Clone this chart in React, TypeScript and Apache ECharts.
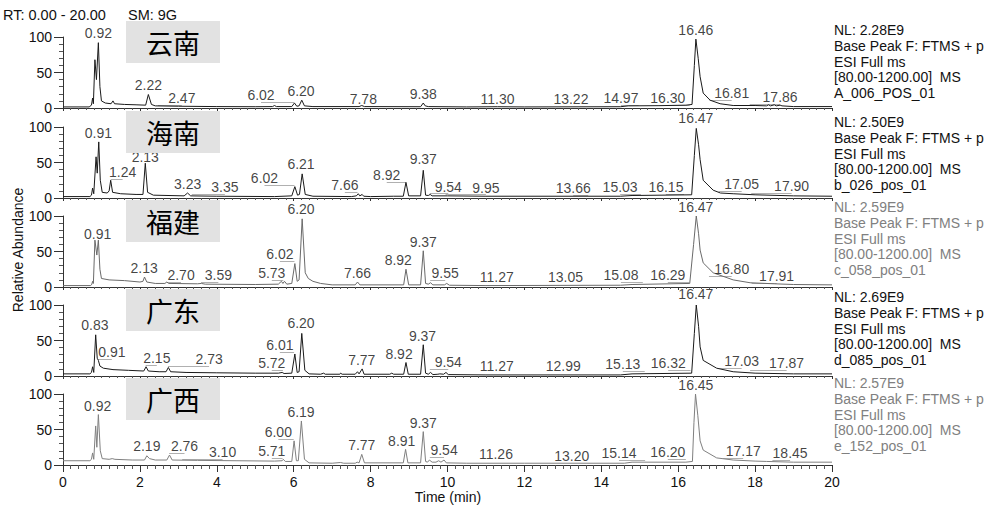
import React, { useEffect, useRef } from "react";
import * as echarts from "echarts";

const regions = ["云南", "海南", "福建", "广东", "广西"];
const nlValues = ["2.28E9", "2.50E9", "2.59E9", "2.69E9", "2.57E9"];
const fileNames = ["A_006_POS_01", "b_026_pos_01", "c_058_pos_01", "d_085_pos_01", "e_152_pos_01"];

const trace1: [number, number][] = [
  [0, 1.5], [0.68, 1.5], [0.74, 4], [0.77, 14], [0.79, 6], [0.83, 68], [0.87, 40], [0.92, 92], [0.96, 30],
  [1.0, 10], [1.1, 7], [1.25, 6], [1.3, 10], [1.34, 6], [1.6, 5], [1.9, 4.5], [2.15, 4], [2.22, 19], [2.3, 5],
  [2.4, 3], [3.0, 2.5], [4.0, 2], [5.0, 1.8], [5.45, 2], [5.5, 3.5], [5.55, 2], [5.95, 2], [6.02, 7], [6.08, 2.5],
  [6.14, 3], [6.21, 11], [6.28, 3], [6.5, 2], [7.7, 2], [7.77, 3.5], [7.84, 2], [9.3, 1.8], [9.37, 7], [9.42, 3],
  [9.5, 2], [10.5, 1.5], [11.3, 1.8], [12, 1.5], [14.5, 1.8], [14.7, 3], [15.5, 3.3], [16.2, 4], [16.36, 5],
  [16.42, 60], [16.46, 97], [16.52, 70], [16.57, 44], [16.65, 21], [16.83, 11], [17.09, 6], [17.43, 3.5],
  [18.0, 3.5], [18.3, 3], [18.35, 4.5], [18.4, 3], [18.5, 4.5], [18.55, 3], [18.65, 4], [18.7, 3], [19, 2], [20, 2],
];
const trace2: [number, number][] = [
  [0, 2], [0.7, 2], [0.74, 4], [0.77, 14], [0.8, 6], [0.86, 58], [0.89, 35], [0.93, 79], [0.97, 25], [1.02, 8],
  [1.15, 7], [1.2, 10], [1.24, 25], [1.29, 8], [1.5, 6], [1.9, 5], [2.08, 5], [2.14, 49], [2.2, 8], [2.35, 4],
  [3.15, 3], [3.24, 7], [3.32, 3], [4, 2.5], [5.5, 2], [5.95, 3], [6.03, 16], [6.1, 4], [6.15, 5], [6.22, 34],
  [6.3, 5], [6.5, 2.5], [7.5, 2], [7.63, 3], [7.68, 6], [7.72, 3], [7.78, 5], [7.82, 2.5], [8.0, 2], [8.6, 2.5],
  [8.85, 2.5], [8.92, 22], [8.99, 3], [9.3, 3], [9.37, 39], [9.43, 4], [9.5, 3.5], [9.55, 5], [9.6, 3], [10, 3],
  [11, 2.5], [14.5, 2.5], [14.8, 3.5], [16.35, 4.5], [16.42, 60], [16.47, 98], [16.53, 75], [16.57, 54],
  [16.65, 25], [16.91, 11], [17.1, 7], [17.43, 6], [18, 4.5], [19, 3], [20, 2.5],
];
const trace3: [number, number][] = [
  [0, 2], [0.72, 2], [0.75, 4], [0.77, 8], [0.79, 5], [0.83, 66], [0.88, 45], [0.92, 66], [0.96, 25], [1.0, 12],
  [1.2, 10], [1.6, 9], [2.0, 7], [2.08, 8], [2.12, 14], [2.18, 7], [2.4, 5], [2.65, 5], [2.7, 7], [2.75, 5],
  [3.5, 4.5], [3.6, 5], [3.7, 4], [5.0, 3.5], [5.6, 4], [5.68, 8], [5.72, 5], [5.76, 8], [5.82, 4], [5.95, 5],
  [6.03, 33], [6.09, 8], [6.14, 10], [6.22, 96], [6.3, 20], [6.38, 12], [6.5, 8], [6.7, 5], [7.0, 3], [7.6, 3],
  [7.66, 7], [7.72, 3], [8.86, 3], [8.92, 25], [8.99, 3], [9.3, 3], [9.37, 51], [9.43, 5], [9.5, 4], [9.56, 6],
  [9.62, 3], [9.92, 3], [9.98, 5], [10.05, 2.5], [11, 2], [14.5, 2.5], [14.8, 3.5], [16.3, 5], [16.4, 60],
  [16.47, 100], [16.53, 75], [16.57, 52], [16.65, 34], [16.91, 20], [17.43, 10], [17.87, 6], [18.5, 4.5],
  [19, 3.5], [20, 3],
];
const trace4: [number, number][] = [
  [0, 3], [0.7, 3], [0.74, 5], [0.77, 13], [0.8, 5], [0.85, 58], [0.89, 25], [0.92, 22], [0.96, 14], [1.05, 11],
  [1.3, 9], [1.7, 8], [2.1, 7], [2.16, 13], [2.22, 7], [2.5, 6], [2.68, 6], [2.74, 12], [2.8, 6], [3.2, 5],
  [4, 4.5], [5.0, 4], [5.6, 4], [5.7, 5], [5.75, 3.5], [5.95, 4], [6.03, 31], [6.09, 5], [6.14, 6], [6.21, 60],
  [6.29, 8], [6.4, 3], [6.7, 2.5], [6.78, 4], [6.82, 2.5], [7.2, 2.5], [7.22, 4], [7.26, 2.5], [7.6, 2.5],
  [7.66, 6], [7.7, 3], [7.78, 10], [7.83, 2.5], [8.5, 2.5], [8.55, 4], [8.6, 2.5], [8.86, 2.5], [8.92, 19],
  [8.98, 2.5], [9.3, 2.5], [9.37, 44], [9.43, 4], [9.5, 2.5], [9.56, 5], [9.62, 2], [9.75, 2.5], [9.8, 3],
  [9.9, 2.5], [9.96, 5], [10.02, 2], [11, 1.5], [14.5, 1.5], [14.8, 3], [16.35, 4], [16.42, 60], [16.47, 100],
  [16.53, 70], [16.57, 41], [16.65, 22], [17.0, 11], [17.43, 6], [18, 4], [19, 3], [20, 3],
];
const trace5: [number, number][] = [
  [0, 6], [0.7, 6], [0.74, 8], [0.77, 17], [0.8, 8], [0.85, 55], [0.88, 25], [0.92, 71], [0.97, 20], [1.02, 9],
  [1.2, 8], [1.28, 9], [1.35, 8], [1.8, 7], [2.12, 7], [2.18, 13], [2.25, 9], [2.4, 7], [2.7, 7], [2.77, 14],
  [2.84, 7], [3.5, 6.5], [4.5, 6], [5.5, 5.5], [5.7, 6], [5.73, 8], [5.78, 5], [5.95, 5], [6.01, 34], [6.07, 6],
  [6.12, 6], [6.2, 62], [6.28, 8], [6.4, 3], [7.0, 2.5], [7.22, 3.5], [7.3, 2.5], [7.6, 2.5], [7.65, 4],
  [7.7, 3], [7.77, 15], [7.84, 3], [8.85, 3], [8.91, 22], [8.97, 3], [9.3, 3], [9.37, 47], [9.43, 5], [9.48, 4],
  [9.53, 7], [9.6, 4], [9.7, 4], [9.77, 6], [9.83, 4], [9.91, 7], [9.97, 3], [10.5, 2.5], [12, 2.5], [14.6, 2.5],
  [14.8, 4], [16.2, 4], [16.37, 5], [16.41, 60], [16.45, 100], [16.51, 70], [16.57, 34], [16.65, 21], [17.0, 10],
  [17.43, 7], [18.0, 5.5], [18.3, 5], [19, 4], [20, 4],
];

// [label text, label centre time, label centre abundance]
const labels1: [string, number, number][] = [
  ["0.92", 0.92, 105.6], ["2.22", 2.22, 32.4], ["2.47", 3.09, 13.7], ["6.02", 5.15, 18.3], ["6.20", 6.19, 24.4],
  ["7.78", 7.81, 12.7], ["9.38", 9.37, 19.3], ["11.30", 11.3, 12.2], ["13.22", 13.21, 12.2], ["14.97", 14.51, 13.7],
  ["16.30", 15.73, 13.7], ["16.46", 16.46, 109.9], ["16.81", 17.39, 21.6], ["17.86", 18.65, 15],
];
const labels2: [string, number, number][] = [
  ["0.91", 0.92, 91.1], ["1.24", 1.55, 37], ["2.13", 2.14, 58], ["3.23", 3.24, 19.7], ["3.35", 4.21, 15],
  ["6.02", 5.24, 27.7], ["6.21", 6.19, 47.4], ["7.66", 7.33, 18.3], ["8.92", 8.42, 32.4], ["9.37", 9.37, 54.5],
  ["9.54", 10.02, 16], ["9.95", 11.0, 14.6], ["13.66", 13.27, 13.7], ["15.03", 14.49, 15], ["16.15", 15.68, 15],
  ["16.47", 16.46, 112], ["17.05", 17.65, 19.7], ["17.90", 18.95, 16.9],
];
const labels3: [string, number, number][] = [
  ["0.91", 0.9, 75], ["2.13", 2.11, 27.2], ["2.70", 3.07, 16.9], ["3.59", 4.04, 16.9], ["5.73", 5.43, 20],
  ["6.02", 5.64, 46.5], ["6.20", 6.19, 109.4], ["7.66", 7.66, 19.2], ["8.92", 8.72, 38], ["9.37", 9.37, 63.8],
  ["9.55", 9.94, 19.2], ["11.27", 11.28, 13.6], ["13.05", 13.07, 13.6], ["15.08", 14.51, 16.9], ["16.29", 15.73, 16.9],
  ["16.47", 16.46, 113], ["16.80", 17.39, 24.9], ["17.91", 18.56, 15.5],
];
const labels4: [string, number, number][] = [
  ["0.83", 0.83, 71.8], ["0.91", 1.27, 34.2], ["2.15", 2.44, 24.9], ["2.73", 3.8, 23.9], ["5.72", 5.43, 18.7],
  ["6.01", 5.64, 43.7], ["6.20", 6.19, 74.2], ["7.77", 7.77, 22.5], ["8.92", 8.74, 30.6], ["9.37", 9.35, 56.3],
  ["9.54", 10.02, 20.2], ["11.27", 11.28, 14.1], ["12.99", 13.01, 14.1], ["15.13", 14.56, 16.9], ["16.32", 15.74, 17.9],
  ["16.47", 16.46, 115], ["17.03", 17.65, 21.6], ["17.87", 18.82, 18.7],
];
const labels5: [string, number, number][] = [
  ["0.92", 0.9, 83], ["2.19", 2.18, 26.8], ["2.76", 3.16, 26.8], ["3.10", 4.15, 18.7], ["5.71", 5.43, 19.7],
  ["6.00", 5.6, 46.5], ["6.19", 6.19, 75], ["7.77", 7.77, 28.2], ["8.91", 8.81, 33.8], ["9.37", 9.37, 59.6],
  ["9.54", 9.91, 20.7], ["11.26", 11.26, 15], ["13.20", 13.23, 12.7], ["15.14", 14.46, 17.3], ["16.20", 15.73, 18.3],
  ["16.45", 16.46, 112.7], ["17.17", 17.69, 19.7], ["18.45", 18.91, 17.3],
];

const traces = [trace1, trace2, trace3, trace4, trace5];
const peakLabels = [labels1, labels2, labels3, labels4, labels5];
const traceColors = ["#1a1a1a", "#1a1a1a", "#6a6a6a", "#1a1a1a", "#808080"];
const infoColors = ["#111", "#111", "#808080", "#111", "#808080"];

const FONT = 'Arial, "Liberation Sans", sans-serif';
const GRID_TOPS = [37, 127, 216, 305, 394];
const GRID_H = 71;
const GRID_LEFT = 63;
const GRID_RIGHT = 168;
const NL_TOPS = [22, 114, 199, 289, 375];

function buildOption() {
  const grid: any[] = [];
  const xAxis: any[] = [];
  const yAxis: any[] = [];
  const series: any[] = [];
  const graphic: any[] = [];

  for (let i = 0; i < 5; i++) {
    const last = i === 4;
    grid.push({ left: GRID_LEFT, right: GRID_RIGHT, top: GRID_TOPS[i], height: GRID_H, containLabel: false });
    xAxis.push({
      type: "value",
      gridIndex: i,
      min: 0,
      max: 20,
      interval: 2,
      axisLine: { show: true, lineStyle: { color: "#333", width: 1 } },
      axisTick: { show: true, length: last ? 7 : 3, lineStyle: { color: "#333" } },
      minorTick: { show: true, splitNumber: 10, length: last ? 4 : 2, lineStyle: { color: "#555" } },
      axisLabel: { show: last, fontSize: 14, color: "#111", fontFamily: FONT, margin: 10 },
      splitLine: { show: false },
      minorSplitLine: { show: false },
    });
    yAxis.push({
      type: "value",
      gridIndex: i,
      min: 0,
      max: 100,
      interval: 50,
      axisLine: { show: true, lineStyle: { color: "#333", width: 1 } },
      axisTick: { show: true, length: 9, lineStyle: { color: "#333" } },
      minorTick: { show: true, splitNumber: 5, length: 4, lineStyle: { color: "#555" } },
      axisLabel: { show: true, fontSize: 14, color: "#111", fontFamily: FONT, margin: 11 },
      splitLine: { show: false },
      minorSplitLine: { show: false },
    });
    // leader lines linking offset labels to their peaks
    const leaders = peakLabels[i]
      .filter((l) => Math.abs(parseFloat(l[0]) - l[1]) > 0.2)
      .map((l) => ({
        coords: [
          [parseFloat(l[0]), l[2] - 10],
          [l[1], l[2] - 10],
        ],
      }));
    series.push({
      type: "lines",
      coordinateSystem: "cartesian2d",
      xAxisIndex: i,
      yAxisIndex: i,
      data: leaders,
      lineStyle: { color: "#b0b0b0", width: 1, opacity: 1 },
      z: 1,
    });
    series.push({
      type: "line",
      xAxisIndex: i,
      yAxisIndex: i,
      data: traces[i],
      showSymbol: false,
      symbol: "none",
      clip: false,
      lineStyle: { color: traceColors[i], width: 1 },
      z: 2,
    });
    series.push({
      type: "scatter",
      xAxisIndex: i,
      yAxisIndex: i,
      data: peakLabels[i].map((l) => [l[1], l[2], l[0]]),
      symbolSize: 1,
      clip: false,
      itemStyle: { color: "rgba(0,0,0,0)" },
      label: {
        show: true,
        position: "inside",
        formatter: (p: any) => p.value[2],
        fontSize: 14,
        color: "#111",
        fontFamily: FONT,
      },
      z: 3,
    });

    graphic.push({
      type: "rect",
      shape: { x: 126, y: GRID_TOPS[i] - 16, width: 94, height: 42 },
      style: { fill: "#e2e2e2" },
      z: 100,
    });
    graphic.push({
      type: "text",
      x: 173,
      y: GRID_TOPS[i] + 5,
      style: {
        text: regions[i],
        fontSize: 27,
        fontFamily: '"Noto Sans CJK SC", sans-serif',
        fill: "#000",
        align: "center",
        verticalAlign: "middle",
      },
      z: 101,
    });
    graphic.push({
      type: "text",
      x: 834,
      y: NL_TOPS[i],
      style: {
        text: [
          "NL: " + nlValues[i],
          "Base Peak F: FTMS + p",
          "ESI Full ms",
          "[80.00-1200.00]  MS",
          fileNames[i],
        ].join("\n"),
        fontSize: 14,
        lineHeight: 15.8,
        fontFamily: FONT,
        fill: infoColors[i],
        align: "left",
        verticalAlign: "top",
      },
      z: 101,
    });
  }

  graphic.push({
    type: "text",
    x: 3,
    y: 15,
    style: { text: "RT: 0.00 - 20.00", fontSize: 14.5, fontFamily: FONT, fill: "#111", verticalAlign: "middle" },
  });
  graphic.push({
    type: "text",
    x: 128,
    y: 15,
    style: { text: "SM: 9G", fontSize: 14.5, fontFamily: FONT, fill: "#111", verticalAlign: "middle" },
  });
  graphic.push({
    type: "text",
    x: 18,
    y: 250,
    rotation: Math.PI / 2,
    style: {
      text: "Relative Abundance",
      fontSize: 14,
      fontFamily: FONT,
      fill: "#111",
      align: "center",
      verticalAlign: "middle",
    },
  });
  graphic.push({
    type: "text",
    x: 448,
    y: 497,
    style: {
      text: "Time (min)",
      fontSize: 14,
      fontFamily: FONT,
      fill: "#111",
      align: "center",
      verticalAlign: "middle",
    },
  });

  return {
    animation: false,
    backgroundColor: "#fff",
    grid,
    xAxis,
    yAxis,
    series,
    graphic,
  };
}

export default function App() {
  const ref = useRef<HTMLDivElement>(null);
  useEffect(() => {
    if (!ref.current) return;
    const chart = echarts.init(ref.current, undefined, { renderer: "svg" });
    chart.setOption(buildOption() as any);
    return () => chart.dispose();
  }, []);
  return (
    <div
      ref={ref}
      style={{ position: "fixed", left: 0, top: 0, width: 1000, height: 515, background: "#fff" }}
    />
  );
}
